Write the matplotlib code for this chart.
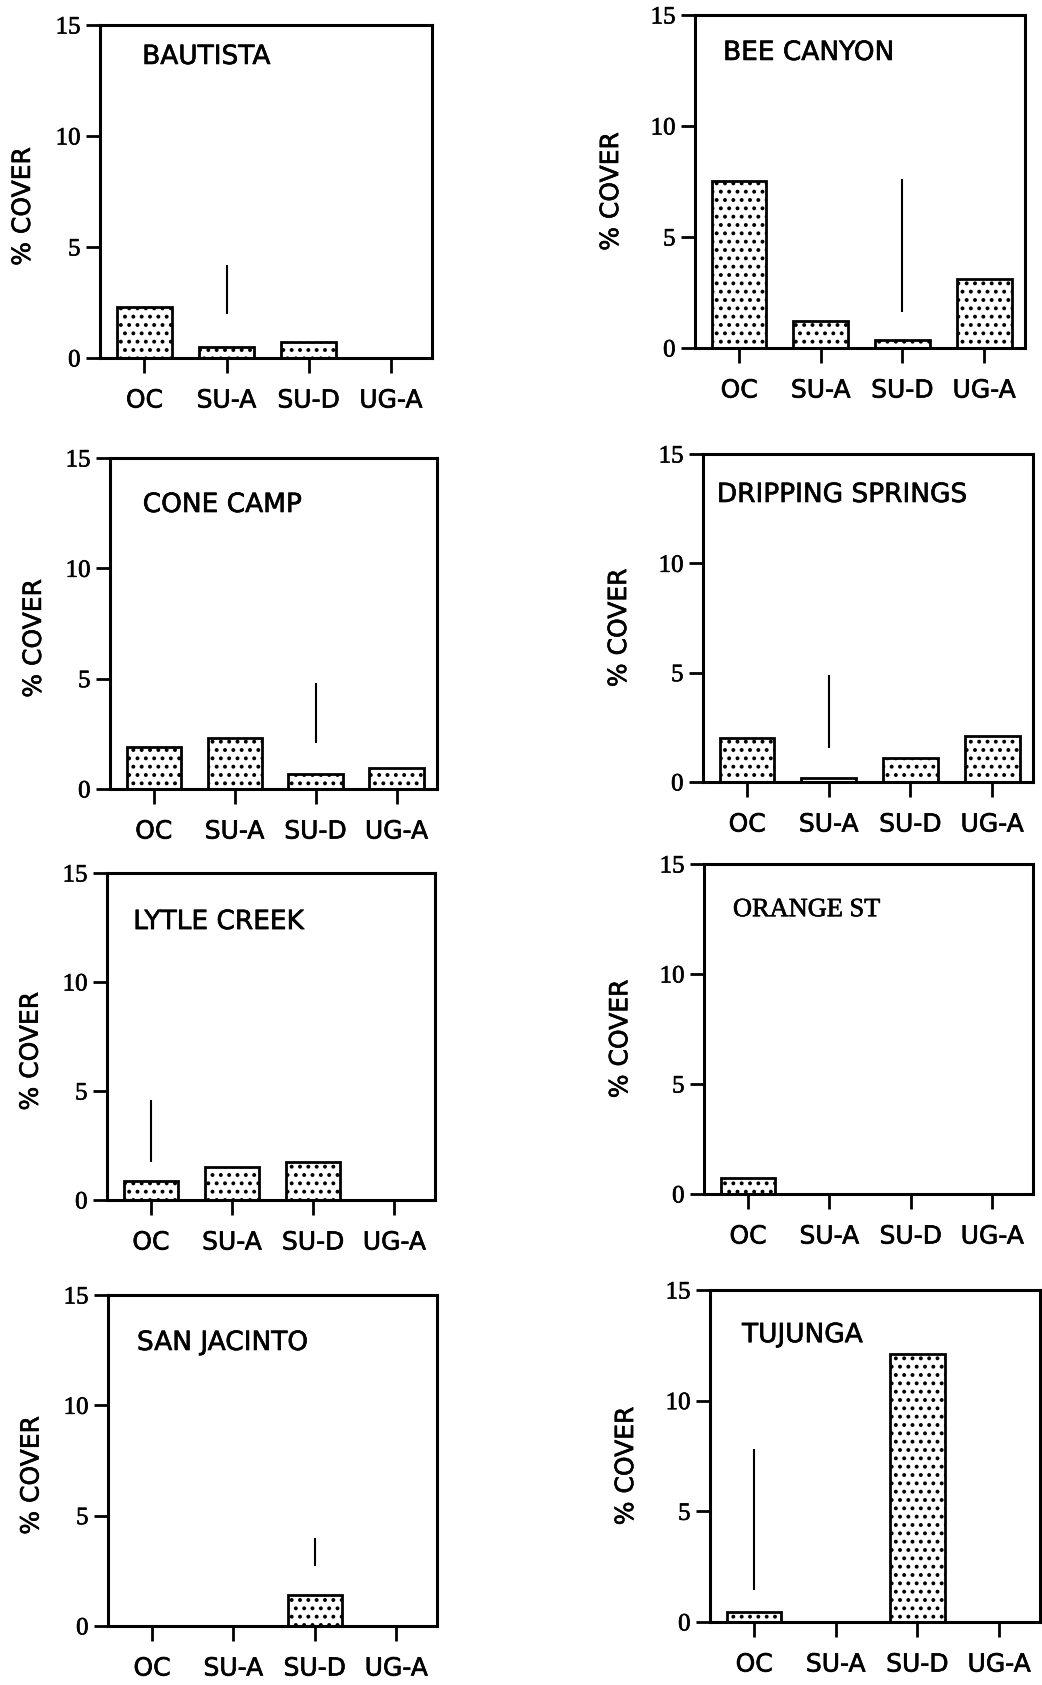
import matplotlib
matplotlib.use("Agg")
import matplotlib.pyplot as plt
import matplotlib.patheffects as pe

categories = ['OC', 'SU-A', 'SU-D', 'UG-A']
sites = ['BAUTISTA', 'BEE CANYON', 'CONE CAMP', 'DRIPPING SPRINGS',
         'LYTLE CREEK', 'ORANGE ST', 'SAN JACINTO', 'TUJUNGA']

# mean % cover per group, one list per site
bautista = [2.3, 0.5, 0.7, 0.0]
bee_canyon = [7.5, 1.2, 0.35, 3.1]
cone_camp = [1.9, 2.3, 0.7, 0.95]
dripping_springs = [2.0, 0.2, 1.1, 2.1]
lytle_creek = [0.85, 1.5, 1.75, 0.0]
orange_st = [0.75, 0.0, 0.0, 0.0]
san_jacinto = [0.0, 0.0, 1.4, 0.0]
tujunga = [0.45, 0.0, 12.1, 0.0]
cover = [bautista, bee_canyon, cone_camp, dripping_springs,
         lytle_creek, orange_st, san_jacinto, tujunga]

# variability line for each site: (group index, low, high), None if not drawn
spread = [(1, 2.0, 4.2), (2, 1.6, 7.6), (2, 2.1, 4.8), (1, 1.55, 4.9),
          (0, 1.75, 4.6), None, (2, 2.7, 4.0), (0, 1.45, 7.8)]

yticks = [0, 5, 10, 15]

# axes boxes in pixels: left, top, right, bottom
W, H = 1042, 1685
boxes = [(100, 25, 432, 358), (695, 15, 1025, 348),
         (110, 458, 437, 789), (703, 454, 1033, 782),
         (107, 873, 435, 1200), (704, 864, 1033, 1194),
         (108, 1295, 437, 1626), (710, 1290, 1040, 1622)]
title_pos = [(0.127, 0.904), (0.085, 0.886), (0.10, 0.858), (0.042, 0.875),
             (0.08, 0.85), (0.088, 0.86), (0.088, 0.855), (0.097, 0.864)]

# slightly heavier strokes on all lettering
heavy = [pe.withStroke(linewidth=0.45, foreground='black')]

plt.rcParams['hatch.linewidth'] = 1.6
fig = plt.figure(figsize=(W / 100, H / 100), dpi=100)

for i, site in enumerate(sites):
    l, t, r, b = boxes[i]
    ax = fig.add_axes([l / W, 1 - b / H, (r - l) / W, (b - t) / H])
    x = range(len(categories))
    ax.bar(x, cover[i], width=0.67, color='white', edgecolor='black',
           linewidth=2.0, hatch='..')
    if spread[i] is not None:
        k, lo, hi = spread[i]
        ax.vlines(k, lo, hi, color='black', linewidth=1.5)

    ax.set_xlim(-0.54, 3.5)
    ax.set_ylim(0, 15)
    ax.set_xticks(list(x))
    ax.set_xticklabels(categories, fontsize=18, family='DejaVu Sans')
    ax.set_yticks(yticks)
    ax.set_yticklabels([str(v) for v in yticks], fontsize=18,
                       family='Liberation Serif')
    ax.tick_params(axis='x', length=11, width=2.0, pad=11)
    ax.tick_params(axis='y', length=10, width=2.0, pad=4)
    for s in ax.spines.values():
        s.set_linewidth(2.2)

    ax.set_ylabel('% COVER', fontsize=18, family='DejaVu Sans')
    if i % 2 == 0:
        ax.yaxis.set_label_coords(-0.196, 0.455)
    else:
        ax.yaxis.set_label_coords(-0.218, 0.47)

    tx, ty = title_pos[i]
    fam = 'Liberation Serif' if site == 'ORANGE ST' else 'DejaVu Sans'
    ax.text(tx, ty, site, transform=ax.transAxes, fontsize=19,
            family=fam, ha='left', va='center', path_effects=heavy)

    for lab in ax.get_xticklabels() + ax.get_yticklabels() + [ax.yaxis.label]:
        lab.set_path_effects(heavy)

fig.savefig('out.png', dpi=100)
